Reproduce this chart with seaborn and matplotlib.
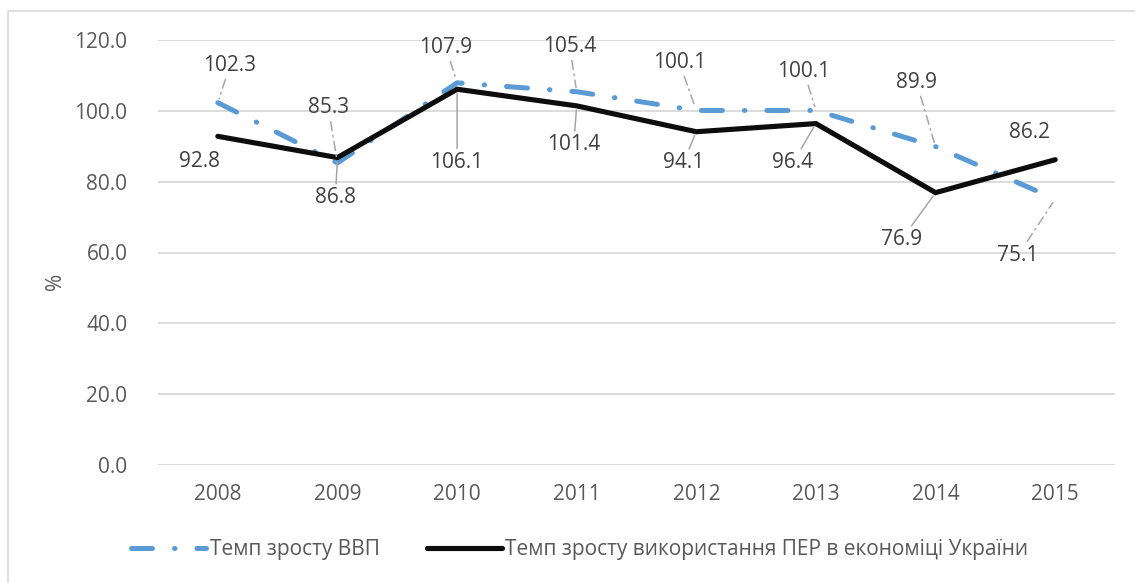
import matplotlib
matplotlib.use("Agg")
import matplotlib.pyplot as plt
from matplotlib.patches import Rectangle
import seaborn as sns
import pandas as pd

# Annual growth rates, % (previous year = 100)
years = ["2008", "2009", "2010", "2011", "2012", "2013", "2014", "2015"]
gdp_growth = [102.3, 85.3, 107.9, 105.4, 100.1, 100.1, 89.9, 75.1]
fer_growth = [92.8, 86.8, 106.1, 101.4, 94.1, 96.4, 76.9, 86.2]

gdp_name = "Темп зросту ВВП"
fer_name = "Темп зросту використання ПЕР в економіці України"

# Label placement relative to each point (pixels, y up) and leader-line flags
gdp_offsets = [(12, 37), (-9, 55), (-11, 35), (-7, 45), (-17, 48), (-12, 39), (-19, 64), (-37, -56)]
gdp_leader = [True, True, True, True, True, True, True, True]
fer_offsets = [(-18, -25), (-2, -40), (0, -73), (-3, -39), (-13, -31), (-23, -39), (-34, -47), (-26, 27)]
fer_leader = [False, True, True, True, True, True, True, False]

sns.set_style("white")
plt.rcParams["font.family"] = ["Open Sans", "DejaVu Sans"]

BLUE = "#5b9bd5"
GRID = "#d9d9d9"
TICK_C = "#595959"
LABEL_C = "#404040"
LEADER_C = "#a6a6a6"
FS = 15

df = pd.DataFrame({
    "pos": list(range(len(years))),
    "gdp": gdp_growth,
    "fer": fer_growth,
})

fig = plt.figure(figsize=(11.35, 5.83), dpi=100)
ax = fig.add_axes([158 / 1135, (583 - 465) / 583, (1115 - 158) / 1135, 425 / 583])

sns.lineplot(data=df, x="pos", y="gdp", ax=ax, color=BLUE, lw=3.6, label=gdp_name, zorder=3)
sns.lineplot(data=df, x="pos", y="fer", ax=ax, color="#0d0d0d", lw=3.7, label=fer_name, zorder=4)

gdp_line, fer_line = ax.get_lines()[0], ax.get_lines()[1]
gdp_line.set_linestyle((0, (4.2, 4.4, 0.1, 4.4)))
gdp_line.set_dash_capstyle("round")
gdp_line.set_solid_capstyle("round")
fer_line.set_solid_capstyle("round")
fer_line.set_solid_joinstyle("miter")

ax.set_xlim(-0.5, len(years) - 0.5)
ax.set_ylim(0, 120)
ax.set_yticks(range(0, 121, 20))
ax.set_yticklabels([f"{v:.1f}" for v in range(0, 121, 20)])
ax.set_xticks(range(len(years)))
ax.set_xticklabels(years)
ax.tick_params(axis="both", length=0, labelsize=FS, labelcolor=TICK_C)
ax.tick_params(axis="y", pad=22)
ax.tick_params(axis="x", pad=14)
ax.yaxis.grid(True, color=GRID, lw=1.3)
ax.xaxis.grid(False)
for s in ax.spines.values():
    s.set_visible(False)
ax.set_xlabel("")
ax.set_ylabel("%", fontsize=FS, color=TICK_C)
ax.yaxis.set_label_coords((66 - 158) / 957, (465 - 281) / 425)


def add_labels(values, offsets, leaders, style):
    for i, (v, (dx, dy), lead) in enumerate(zip(values, offsets, leaders)):
        arrow = None
        if lead:
            arrow = dict(arrowstyle="-", color=LEADER_C, lw=1.1, linestyle=style,
                         shrinkA=0, shrinkB=3)
        ax.annotate(f"{v:.1f}", xy=(i, v), xytext=(dx, dy), textcoords="offset pixels",
                    ha="center", va="center", fontsize=FS, color=LABEL_C,
                    arrowprops=arrow, zorder=5)


add_labels(gdp_growth, gdp_offsets, gdp_leader, (0, (6, 3, 1, 3)))
add_labels(fer_growth, fer_offsets, fer_leader, "-")

leg = ax.legend(loc="center", bbox_to_anchor=(580 / 1135, (583 - 550) / 583),
                bbox_transform=fig.transFigure, ncol=2, frameon=False,
                fontsize=FS, handlelength=3.6, handletextpad=0.15, columnspacing=2.3)
for t in leg.get_texts():
    t.set_color(TICK_C)

fig.patches.append(Rectangle((8 / 1135, -0.1), 1.2, (583 - 11) / 583 + 0.1,
                             transform=fig.transFigure, fill=False, ec=GRID, lw=1.2))

fig.savefig("out.png", dpi=100)
